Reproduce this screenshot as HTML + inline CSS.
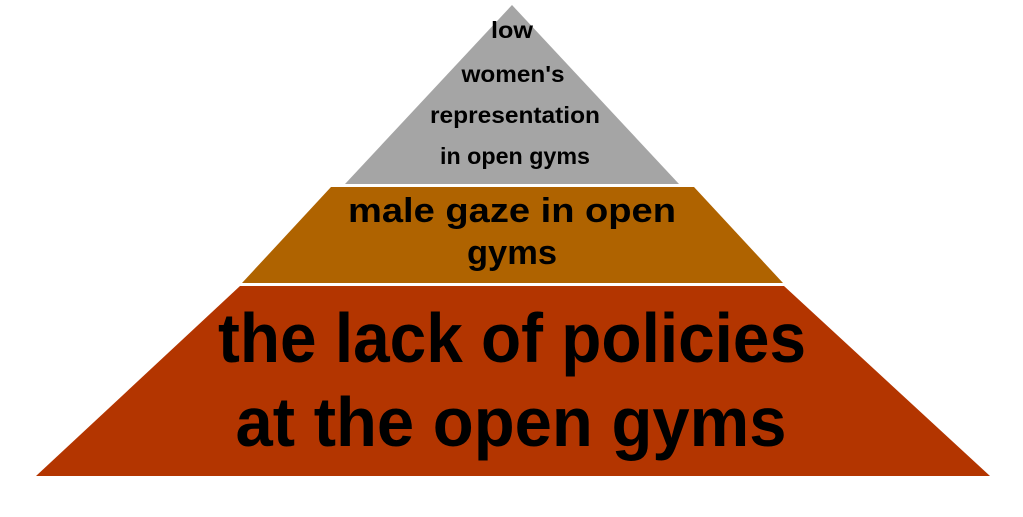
<!DOCTYPE html>
<html><head><meta charset="utf-8"><style>
html,body{margin:0;padding:0;background:#fff;width:1023px;height:517px;overflow:hidden}
svg{display:block}
text{font-family:"Liberation Sans",sans-serif;font-weight:bold;fill:#000}
</style></head><body>
<svg width="1023" height="517" viewBox="0 0 1023 517" xmlns="http://www.w3.org/2000/svg">
<polygon points="512,5 679,184 345,184" fill="#a5a5a5"/>
<polygon points="331,187 694,187 783,283 242,283" fill="#af6300"/>
<polygon points="240,286 784,286 990,476 36,476" fill="#b33500"/>
<g text-anchor="middle">
<text x="512" y="38" font-size="23" textLength="42" lengthAdjust="spacingAndGlyphs">low</text>
<text x="513" y="82" font-size="23" textLength="103" lengthAdjust="spacingAndGlyphs">women's</text>
<text x="515" y="123" font-size="23" textLength="170" lengthAdjust="spacingAndGlyphs">representation</text>
<text x="515" y="164" font-size="23" textLength="150" lengthAdjust="spacingAndGlyphs">in open gyms</text>
<text x="512" y="222" font-size="34" textLength="328" lengthAdjust="spacingAndGlyphs">male gaze in open</text>
<text x="512" y="264" font-size="34" textLength="90" lengthAdjust="spacingAndGlyphs">gyms</text>
<text x="512" y="362" font-size="70" textLength="588" lengthAdjust="spacingAndGlyphs">the lack of policies</text>
<text x="511" y="446" font-size="70" textLength="551" lengthAdjust="spacingAndGlyphs">at the open gyms</text>
</g>
</svg>
</body></html>
